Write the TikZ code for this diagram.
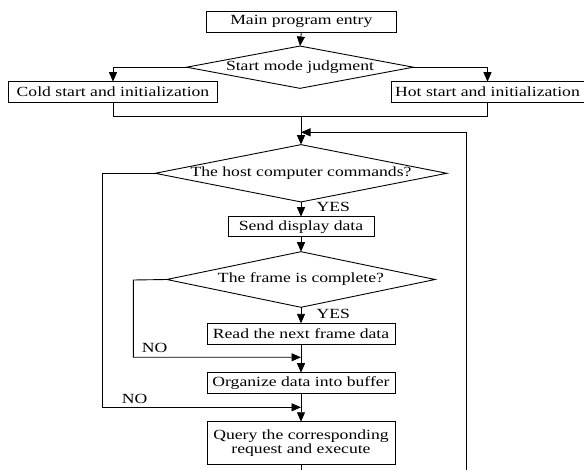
\documentclass[tikz,border=0pt]{standalone}
\usepackage{fontspec}
\setmainfont{Liberation Serif}[FakeStretch=1.26]
\usetikzlibrary{shapes.geometric,arrows.meta,calc}
\begin{document}
\begin{tikzpicture}[x=1pt,y=-1pt,
  every node/.style={font=\fontsize{14}{14}\selectfont},
  box/.style={draw, line width=0.9pt, inner sep=0pt, outer sep=0pt, align=center},
  dia/.style={draw, diamond, line width=0.9pt, inner sep=0.5pt, outer sep=0pt},
  ln/.style={line width=0.9pt},
  arr/.style={ln, -{Triangle[length=9.5pt,width=8pt]}},
  lbl/.style={inner sep=0pt}]
\useasboundingbox (0,0) rectangle (584,470);

% nodes
\node[box, minimum width=189.3pt, minimum height=21.3pt] (main) at (301.3,21.7) {Main program entry};
\node[dia, minimum width=226.6pt, minimum height=42.3pt, aspect=5.36] (start) at (300,67.2) {Start mode judgment};
\node[box, minimum width=209pt, minimum height=21pt] (cold) at (113,92.2) {Cold start and initialization};
\node[box, minimum width=193pt, minimum height=21pt] (hot) at (487.5,92.2) {Hot start and initialization};
\node[dia, minimum width=290.3pt, minimum height=57pt, aspect=5.09] (host) at (301,173.3) {The host computer commands?};
\node[box, minimum width=146pt, minimum height=20pt] (send) at (301,226.7) {Send display data};
\node[dia, minimum width=268.3pt, minimum height=55.6pt, aspect=4.83] (frame) at (301,279.5) {The frame is complete?};
\node[box, minimum width=188pt, minimum height=20.7pt] (read) at (301,333.7) {Read the next frame data};
\node[box, minimum width=188pt, minimum height=20.6pt] (org) at (301,383) {Organize data into buffer};
\node[box, minimum width=188pt, minimum height=42.3pt] (query) at (301,442.9) {Query the corresponding\\request and execute};

% helper coordinates
\coordinate (j) at (301,116.7);
\coordinate (lp) at (301,132.3);
\coordinate (rb) at (466.7,470);
\coordinate (bot) at (301,470);
\coordinate (m1) at (301,357.3);
\coordinate (m2) at (301,407.3);
\coordinate (c1) at (133.3,280);
\coordinate (c2) at (102.7,173.3);

% connectors
\draw[arr] (main.south) -- (start.north);
\draw[arr] (start.west) -| (cold.north);
\draw[arr] (start.east) -| (hot.north);
\draw[ln] (cold.south) |- (j) -| (hot.south);
\draw[arr] (j) -- (host.north);
\draw[arr] (rb) |- (lp);
\draw[arr] (host.south) -- (send.north);
\draw[arr] (send.south) -- (frame.north);
\draw[arr] (frame.south) -- (read.north);
\draw[arr] (read.south) -- (org.north);
\draw[arr] (org.south) -- (query.north);
\draw[ln] (query.south) -- (bot);
\draw[arr] (frame.west) -- (c1) |- (m1);
\draw[arr] (host.west) -- (c2) |- (m2);

% labels
\node[lbl, anchor=west] (yes1) at ($(host.south)+(15.5,4.5)$) {YES};
\node[lbl, anchor=west] (yes2) at ($(frame.south)+(15.5,6.2)$) {YES};
\node[lbl, anchor=west] (no1) at ($(c1)+(8.4,68.3)$) {NO};
\node[lbl, anchor=west] (no2) at ($(c2)+(19,226)$) {NO};
\end{tikzpicture}
\end{document}
